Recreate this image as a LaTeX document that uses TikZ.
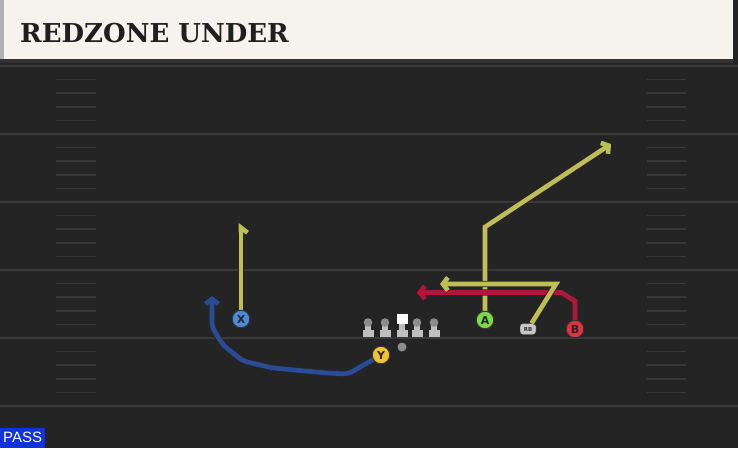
\documentclass[tikz,border=0pt]{standalone}
\usepackage{fontspec}
\setmainfont{DejaVu Sans}
\newfontfamily\titlefont{DejaVu Serif}
\newfontfamily\passfont{Liberation Sans}
\usetikzlibrary{arrows.meta}
\definecolor{field}{HTML}{242424}
\definecolor{yardline}{HTML}{3A3A3A}
\definecolor{hashmark}{HTML}{383838}
\definecolor{header}{HTML}{F5F3EC}
\definecolor{routeyellow}{HTML}{BFBD55}
\definecolor{routered}{HTML}{B0163A}
\definecolor{routeblue}{HTML}{2A4C98}
\definecolor{xblue}{HTML}{4A8BDB}
\definecolor{yyellow}{HTML}{F2C230}
\definecolor{agreen}{HTML}{7DDA45}
\definecolor{bred}{HTML}{E2323F}
\definecolor{passblue}{HTML}{1133DD}
\begin{document}
\begin{tikzpicture}[x=1pt,y=-1pt,
    route/.style={line width=4.6pt, draw=#1, line join=miter,
      preaction={draw=black!85, line width=6.4pt}},
    tip/.style={-{Straight Barb[length=5pt,width=13pt]}},
    player/.style={circle, draw=black!80, line width=0.9pt, minimum size=17.5pt,
      inner sep=0pt, font=\bfseries\fontsize{11}{11}\selectfont, text=black!85},
    lineman/.style={fill=black!25}]
    \useasboundingbox (0,0) rectangle (738,448);
    \fill[field] (0,0) rectangle (738,448);
    \foreach \yl in {66,134,202,270,338,406}
      \draw[yardline, line width=2pt] (0,\yl) -- (738,\yl);
    \foreach \yl in {66,134,202,270,338}
      \foreach \k in {1,...,4} {
        \draw[hashmark, line width=1.5pt] (56,\yl+\k*13.6) -- (96,\yl+\k*13.6);
        \draw[hashmark, line width=1.5pt] (647,\yl+\k*13.6) -- (686,\yl+\k*13.6);
      }
    \fill[black!80] (0,59) rectangle (733,63);
    \fill[header] (0,0) rectangle (733,59);
    \fill[black!30] (0,0) rectangle (4,59);
    \node[anchor=base west, inner sep=0pt, text=black!88,
      font=\titlefont\bfseries\fontsize{26}{26}\selectfont] (title) at (20,42) {REDZONE UNDER};

    \foreach \lx in {368,385,417,434} {
      \fill[lineman] (\lx-2.6,322) rectangle (\lx+2.6,332);
      \fill[lineman] (\lx-5.5,330) rectangle (\lx+5.5,336.5);
      \fill[black!45] (\lx,322.5) circle (4.3);
    }
    \fill[white] (396.5,314) rectangle (407.5,324);
    \fill[lineman] (399.4,324) rectangle (404.6,331);
    \fill[lineman] (396.5,330) rectangle (407.5,336.5);
    \node[circle, fill=black!45, minimum size=9pt, inner sep=0pt] (QB) at (402,347) {};

    \node[player, fill=xblue] (X) at (241,319) {X};
    \node[player, fill=yyellow] (Y) at (381,355) {Y};
    \node[player, fill=agreen] (A) at (485,320) {A};
    \node[player, fill=bred] (B) at (575,329) {B};
    \node[draw=black!80, fill=black!22, rounded corners=3pt, minimum width=16pt,
      minimum height=11pt, inner sep=0pt, text=black!80,
      font=\bfseries\fontsize{5.5}{5.5}\selectfont] (RB) at (528,329) {RB};

    \coordinate (xtop) at (241,223);
    \coordinate (ytop) at (212,296);
    \coordinate (acorner) at (485,227);
    \coordinate (atop) at (611,144);
    \coordinate (rbcorner) at (556,284);
    \coordinate (rbend) at (440,284);
    \coordinate (bturn) at (575,301);
    \coordinate (bcorner) at (561,292.5);
    \coordinate (bend) at (417,292.5);

    \draw[route=routeyellow, -{Straight Barb[harpoon,swap,length=5pt,width=13pt]}] (X) -- (xtop);
    \draw[route=routeblue, tip, rounded corners=5pt] (Y) -- (348,374) -- (327,373)
      -- (273,368) -- (243,361) -- (223,345) -- (212,327) -- (ytop);
    \draw[route=routeyellow, tip] (A) -- (acorner) -- (atop);
    \draw[route=routered, tip] (B) -- (bturn) -- (bcorner) -- (bend);
    \draw[route=routeyellow, tip] (RB) -- (rbcorner) -- (rbend);

    \node[player, fill=xblue] at (X) {X};
    \node[player, fill=yyellow] at (Y) {Y};
    \node[player, fill=agreen] at (A) {A};
    \node[player, fill=bred] at (B) {B};

    \node[fill=passblue, text=white, anchor=south west, minimum width=45pt,
      minimum height=20pt, inner sep=0pt,
      font=\passfont\fontsize{15}{15}\selectfont] (pass) at (0,448) {PASS};
\end{tikzpicture}
\end{document}
